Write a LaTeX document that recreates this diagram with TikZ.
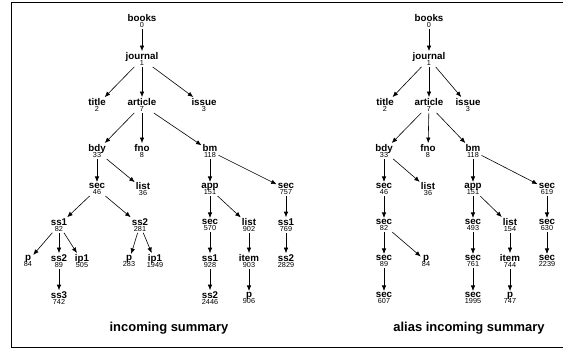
\documentclass[tikz,border=0pt]{standalone}
\usepackage{fontspec}
\setmainfont{Liberation Sans}
\usetikzlibrary{arrows.meta}

\newcommand{\labfont}{\fontsize{9.8}{10}\selectfont\bfseries}
\newcommand{\numfont}{\fontsize{7.3}{10}\selectfont\mdseries}

\begin{document}
\begin{tikzpicture}[
    x=1bp, y=-1bp,
    treenode/.style={rectangle, inner sep=1bp, align=center,
        font=\fontsize{9.8}{10}\selectfont},
    edge/.style={line width=0.6bp, -{Latex[length=5.5bp,width=4.5bp]}},
    caption/.style={font=\fontsize{13}{13}\selectfont\bfseries},
]

    \useasboundingbox (0,0) rectangle (563,349);

    % frame: left, top and bottom lines
    \draw [line width=1bp] (563,2) -- (11,2) -- (11,347) -- (563,347);

    % row heights (node centres)
    \def\rA{21}
    \def\rB{59}
    \def\rC{105}
    \def\rD{151}
    \def\rE{189}
    \def\rF{225}
    \def\rG{261}
    \def\rH{298}

    % left tree nodes
    \foreach \lab/\num/\posX/\posY in {
    % lab:  element name,
    % num:  summary node id,
    % posX, posY: node centre
    books/0/142/\rA,
    journal/1/142/\rB,
    title/2/97/\rC, article/7/142/\rC, issue/3/204/\rC,
    bdy/33/97/\rD, fno/8/142/\rD, bm/118/210/\rD,
    sec/46/97/\rE, list/36/143/\rE, app/151/210/\rE, sec/757/286/\rE,
    ss1/82/59/\rF, ss2/281/140/\rF, sec/570/210/\rF, list/902/249/\rF, ss1/769/286/\rF,
    p/84/28/\rG, ss2/89/59/\rG, ip1/505/82/\rG, p/283/129/\rG, ip1/1949/155/\rG,
    ss1/928/210/\rG, item/903/249/\rG, ss2/2829/286/\rG,
    ss3/742/59/\rH, ss2/2446/210/\rH, p/906/249/\rH}
    {
        \node [treenode] at (\posX, \posY) (L_\num) {\labfont \lab\\[-3.6bp]\numfont \num};
    }

    % right tree nodes
    \foreach \lab/\num/\posX/\posY in {
    books/0/429/\rA,
    journal/1/429/\rB,
    title/2/385/\rC, article/7/429/\rC, issue/3/468/\rC,
    bdy/33/384/\rD, fno/8/428/\rD, bm/118/473/\rD,
    sec/46/384/\rE, list/36/428/\rE, app/151/473/\rE, sec/619/547/\rE,
    sec/82/384/\rF, sec/493/473/\rF, list/154/510/\rF, sec/630/547/\rF,
    sec/89/384/\rG, p/84/426/\rG, sec/761/473/\rG, item/744/510/\rG, sec/2239/547/\rG,
    sec/607/384/\rH, sec/1995/473/\rH, p/747/510/\rH}
    {
        \node [treenode] at (\posX, \posY) (R_\num) {\labfont \lab\\[-3.6bp]\numfont \num};
    }

    % left tree edges
    \foreach \start/\end in {
    0/1, 1/2, 1/7, 1/3,
    7/33, 7/8, 7/118,
    33/46, 33/36, 118/151, 118/757,
    46/82, 46/281, 151/570, 151/902, 757/769,
    82/84, 82/89, 82/505, 281/283, 281/1949, 570/928, 902/903, 769/2829,
    89/742, 928/2446, 903/906}
    {
        \draw [edge] (L_\start) -- (L_\end);
    }

    % right tree edges
    \foreach \start/\end in {
    0/1, 1/2, 1/7, 1/3,
    7/33, 7/8, 7/118,
    33/46, 33/36, 118/151, 118/619,
    46/82, 151/493, 151/154, 619/630,
    82/89, 82/84, 493/761, 154/744, 630/2239,
    89/607, 761/1995, 744/747}
    {
        \draw [edge] (R_\start) -- (R_\end);
    }

    % captions
    \node [caption] at (169, 328) (Lcaption) {incoming summary};
    \node [caption] at (469, 328) (Rcaption) {alias incoming summary};

\end{tikzpicture}
\end{document}
